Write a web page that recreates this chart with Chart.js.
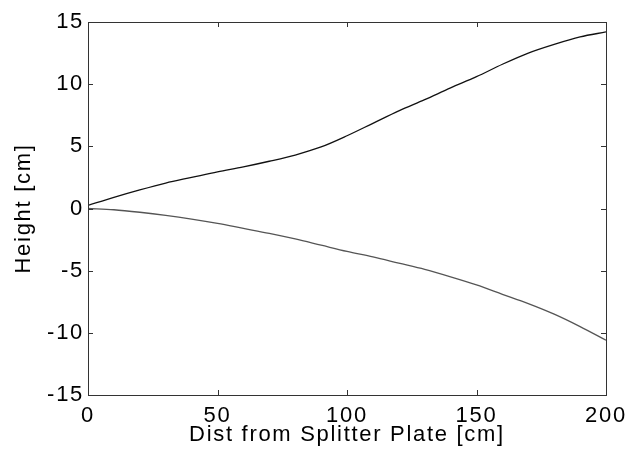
<!DOCTYPE html>
<html>
<head>
<meta charset="utf-8">
<script src="https://cdn.jsdelivr.net/npm/chart.js@4/dist/chart.umd.min.js"></script>
<style>
  body { margin: 0; background: #fff; }
  #wrap { width: 628px; height: 452px; }
</style>
</head>
<body>
<div id="wrap"><canvas id="plot" width="628" height="452"></canvas></div>
<script>
// distance from splitter plate [cm]
const dist = [0, 10, 20, 30, 40, 50, 60, 70, 80, 90, 100, 110, 120, 130, 140, 150, 160, 170, 180, 190, 200];
// upper and lower edge heights [cm]
const upperEdge = [0.25, 0.9, 1.5, 2.05, 2.5, 2.95, 3.35, 3.8, 4.3, 4.95, 5.85, 6.85, 7.85, 8.75, 9.7, 10.6, 11.6, 12.5, 13.2, 13.8, 14.2];
const lowerEdge = [0, -0.1, -0.3, -0.55, -0.85, -1.2, -1.6, -2.0, -2.45, -2.95, -3.45, -3.9, -4.4, -4.9, -5.5, -6.15, -6.9, -7.65, -8.5, -9.5, -10.6];
const xTicks = [0, 50, 100, 150, 200];
const yTicks = [-15, -10, -5, 0, 5, 10, 15];

const font = { family: 'Liberation Sans, Arial, sans-serif', size: 22 };

// the matlab text looks a bit wide, spread the letters out
const spacing = {
  id: 'spacing',
  beforeUpdate(chart) { chart.ctx.letterSpacing = '1.7px'; },
  beforeDraw(chart) { chart.ctx.letterSpacing = '1.7px'; }
};

// matlab style box with inward ticks on every side
const boxTicks = {
  id: 'boxTicks',
  afterDraw(chart) {
    const { ctx, chartArea: a, scales } = chart;
    ctx.save();
    ctx.strokeStyle = '#333';
    ctx.lineWidth = 1;
    ctx.strokeRect(a.left + 0.5, a.top + 0.5, a.right - a.left, a.bottom - a.top);
    const len = 5;
    ctx.beginPath();
    xTicks.forEach(v => {
      const px = Math.round(scales.x.getPixelForValue(v)) + 0.5;
      ctx.moveTo(px, a.bottom); ctx.lineTo(px, a.bottom - len);
      ctx.moveTo(px, a.top); ctx.lineTo(px, a.top + len);
    });
    yTicks.forEach(v => {
      const py = Math.round(scales.y.getPixelForValue(v)) + 0.5;
      ctx.moveTo(a.left, py); ctx.lineTo(a.left + len, py);
      ctx.moveTo(a.right, py); ctx.lineTo(a.right - len, py);
    });
    ctx.stroke();
    ctx.restore();
  }
};

new Chart(document.getElementById('plot'), {
  type: 'line',
  data: {
    datasets: [
      {
        label: 'upper',
        data: dist.map((d, i) => ({ x: d, y: upperEdge[i] })),
        borderColor: '#111',
        borderWidth: 1.3,
        pointRadius: 0,
        cubicInterpolationMode: 'monotone'
      },
      {
        label: 'lower',
        data: dist.map((d, i) => ({ x: d, y: lowerEdge[i] })),
        borderColor: '#555',
        borderWidth: 1.3,
        pointRadius: 0,
        cubicInterpolationMode: 'monotone'
      }
    ]
  },
  options: {
    responsive: false,
    animation: false,
    layout: { padding: { top: 22, right: 22, left: 0, bottom: 0 } },
    plugins: { legend: { display: false }, tooltip: { enabled: false } },
    scales: {
      x: {
        type: 'linear',
        min: 0,
        max: 200,
        afterBuildTicks: s => { s.ticks = xTicks.map(v => ({ value: v })); },
        afterFit: s => { s.height = 57; s.paddingLeft = 0; s.paddingRight = 0; },
        grid: { display: false, drawTicks: false },
        border: { display: false },
        ticks: { color: '#000', font: font, padding: 8, maxRotation: 0 },
        title: { display: true, text: 'Dist from Splitter Plate [cm]', color: '#000', font: font, padding: { top: 0 } }
      },
      y: {
        type: 'linear',
        min: -15,
        max: 15,
        afterBuildTicks: s => { s.ticks = yTicks.map(v => ({ value: v })); },
        afterFit: s => { s.width = 88; s.paddingTop = 0; s.paddingBottom = 0; },
        grid: { display: false, drawTicks: false },
        border: { display: false },
        ticks: { color: '#000', font: font, padding: 4 },
        title: { display: true, text: 'Height [cm]', color: '#000', font: font, padding: { top: 11, bottom: 0 } }
      }
    }
  },
  plugins: [spacing, boxTicks]
});
</script>
</body>
</html>
